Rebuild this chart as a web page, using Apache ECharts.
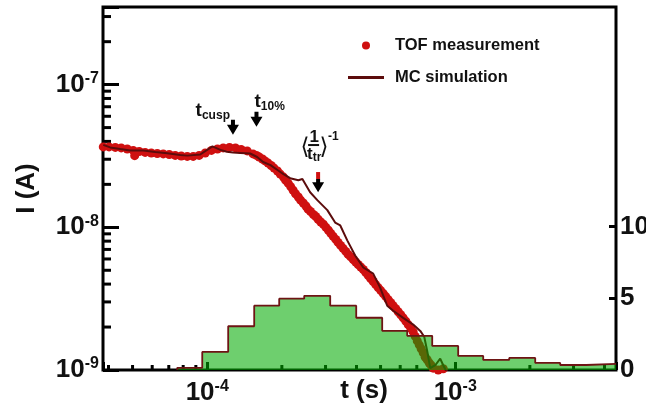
<!DOCTYPE html>
<html>
<head>
<meta charset="utf-8">
<script src="https://cdn.jsdelivr.net/npm/echarts@6/dist/echarts.min.js"></script>
<style>
html, body { margin: 0; padding: 0; background: #fff; }
#main { width: 646px; height: 410px; }
</style>
</head>
<body>
<div id="main"></div>
<script>
var FONT = '"Liberation Sans", Arial, sans-serif';

// TOF measurement (t in s, I in A)
var tofTime = [3.81e-5, 4.02e-5, 4.26e-5, 4.50e-5, 4.76e-5, 5.03e-5, 5.10e-5, 5.32e-5, 5.62e-5, 5.95e-5,
  6.29e-5, 6.65e-5, 7.03e-5, 7.43e-5, 7.86e-5, 8.31e-5, 8.78e-5, 9.28e-5, 9.82e-5, 1.04e-4,
  1.10e-4, 1.16e-4, 1.23e-4, 1.30e-4, 1.37e-4, 1.45e-4,
  1.53e-4, 1.58e-4, 1.62e-4, 1.67e-4, 1.71e-4, 1.76e-4, 1.81e-4, 1.86e-4, 1.92e-4, 1.97e-4,
  2.03e-4, 2.07e-4, 2.12e-4, 2.17e-4, 2.22e-4, 2.27e-4, 2.33e-4, 2.38e-4, 2.44e-4, 2.50e-4,
  2.55e-4, 2.61e-4, 2.68e-4, 2.74e-4, 2.80e-4, 2.87e-4, 2.94e-4, 3.01e-4, 3.08e-4, 3.15e-4,
  3.22e-4, 3.30e-4, 3.37e-4, 3.45e-4, 3.53e-4, 3.62e-4, 3.70e-4, 3.79e-4, 3.88e-4, 3.97e-4,
  4.06e-4, 4.16e-4, 4.26e-4, 4.36e-4, 4.46e-4, 4.56e-4, 4.67e-4, 4.78e-4, 4.89e-4, 5.01e-4,
  5.13e-4, 5.25e-4, 5.37e-4, 5.50e-4, 5.62e-4, 5.76e-4, 5.89e-4, 6.03e-4, 6.17e-4, 6.32e-4,
  6.46e-4, 6.62e-4, 6.77e-4, 6.90e-4, 7.03e-4, 7.16e-4, 7.29e-4, 7.43e-4, 7.57e-4, 7.71e-4,
  7.86e-4, 8.00e-4, 8.15e-4, 8.54e-4, 8.95e-4];
var tofCurrent = [3.66e-8, 3.66e-8, 3.63e-8, 3.60e-8, 3.54e-8, 3.46e-8, 3.18e-8, 3.40e-8, 3.35e-8, 3.32e-8,
  3.29e-8, 3.27e-8, 3.24e-8, 3.19e-8, 3.16e-8, 3.14e-8, 3.14e-8, 3.19e-8, 3.32e-8, 3.46e-8,
  3.54e-8, 3.60e-8, 3.63e-8, 3.60e-8, 3.51e-8, 3.43e-8,
  3.27e-8, 3.19e-8, 3.11e-8, 3.01e-8, 2.92e-8, 2.82e-8, 2.71e-8, 2.60e-8, 2.48e-8, 2.36e-8,
  2.25e-8, 2.14e-8, 2.04e-8, 1.93e-8, 1.82e-8, 1.72e-8, 1.63e-8, 1.55e-8, 1.48e-8, 1.41e-8,
  1.34e-8, 1.29e-8, 1.23e-8, 1.19e-8, 1.14e-8, 1.09e-8, 1.05e-8, 1.00e-8, 9.53e-9, 9.07e-9,
  8.64e-9, 8.23e-9, 7.84e-9, 7.47e-9, 7.12e-9, 6.78e-9, 6.46e-9, 6.20e-9, 5.95e-9, 5.71e-9,
  5.49e-9, 5.27e-9, 5.06e-9, 4.82e-9, 4.59e-9, 4.37e-9, 4.17e-9, 3.97e-9, 3.78e-9, 3.60e-9,
  3.43e-9, 3.27e-9, 3.11e-9, 2.96e-9, 2.82e-9, 2.69e-9, 2.56e-9, 2.44e-9, 2.32e-9, 2.20e-9,
  2.08e-9, 1.96e-9, 1.85e-9, 1.72e-9, 1.60e-9, 1.50e-9, 1.41e-9, 1.32e-9, 1.23e-9, 1.18e-9,
  1.12e-9, 1.08e-9, 1.03e-9, 1.00e-9, 1.02e-9];

// MC simulation
var mcTime = [3.81e-5, 4.06e-5, 4.46e-5, 4.89e-5, 5.52e-5, 6.17e-5, 6.90e-5, 7.78e-5, 8.31e-5, 9.37e-5,
  1.05e-4, 1.13e-4, 1.20e-4, 1.27e-4, 1.36e-4, 1.49e-4, 1.59e-4, 1.68e-4, 1.80e-4, 1.92e-4,
  2.03e-4, 2.16e-4, 2.33e-4, 2.42e-4, 2.60e-4, 2.78e-4, 3.05e-4, 3.28e-4, 3.44e-4, 3.67e-4,
  3.95e-4, 4.26e-4, 4.67e-4, 4.98e-4, 5.32e-4, 5.62e-4, 6.17e-4, 6.77e-4, 7.23e-4, 7.50e-4,
  7.71e-4, 7.93e-4, 8.31e-4, 8.70e-4, 8.95e-4, 9.20e-4];
var mcCurrent = [3.78e-8, 3.63e-8, 3.54e-8, 3.46e-8, 3.46e-8, 3.37e-8, 3.30e-8, 3.21e-8, 3.18e-8, 3.24e-8,
  3.69e-8, 3.49e-8, 3.39e-8, 3.34e-8, 3.32e-8, 3.29e-8, 3.11e-8, 2.87e-8, 2.73e-8, 2.52e-8,
  2.36e-8, 2.21e-8, 2.14e-8, 2.18e-8, 1.76e-8, 1.55e-8, 1.32e-8, 1.08e-8, 1.03e-8, 8.10e-9,
  6.35e-9, 5.23e-9, 4.74e-9, 3.78e-9, 2.82e-9, 2.60e-9, 2.32e-9, 2.08e-9, 1.88e-9, 1.71e-9,
  1.36e-9, 1.03e-9, 1.08e-9, 1.20e-9, 1.08e-9, 0.98e-9];

// transit time histogram (bin edges in s, counts on right axis)
var histEdges = [7.57e-5, 9.55e-5, 1.215e-4, 1.547e-4, 1.951e-4, 2.461e-4, 3.133e-4, 3.989e-4, 5.077e-4,
  6.404e-4, 8.078e-4, 1.028e-3, 1.297e-3, 1.651e-3, 2.102e-3, 2.651e-3, 3.375e-3, 4.45e-3];
var histCounts = [0.15, 1.26, 3.05, 4.48, 4.97, 5.17, 4.48, 3.64, 2.73, 2.38, 1.68, 0.98, 0.70, 0.84, 0.49, 0.35, 0.42];

// ticks
var xMinorTicks = [4e-5, 5e-5, 6e-5, 7e-5, 8e-5, 9e-5, 2e-4, 3e-4, 4e-4, 5e-4, 6e-4, 7e-4, 8e-4, 9e-4, 2e-3, 3e-3, 4e-3];
var yMinorTicks = [2e-9, 3e-9, 4e-9, 5e-9, 6e-9, 7e-9, 8e-9, 9e-9, 2e-8, 3e-8, 4e-8, 5e-8, 6e-8, 7e-8, 8e-8, 9e-8, 2e-7, 3e-7];
var countTicks = [5, 10];
var countLabels = [0, 5, 10];

// arrows: time, top of shaft, tip (A)
var arrowTimes = [1.27e-4, 1.58e-4, 2.80e-4];
var arrowTops = [5.67e-8, 6.45e-8, 2.44e-8];
var arrowTips = [4.45e-8, 5.06e-8, 1.76e-8];

var xMin = 3.8e-5, xMax = 4.45e-3, yMin = 1e-9, yMax = 3.5e-7;

var tofData = tofTime.map(function (t, i) { return [t, tofCurrent[i]]; });
var mcData = mcTime.map(function (t, i) { return [t, mcCurrent[i]]; });
var histData = [[histEdges[0], 0]];
for (var i = 0; i < histCounts.length; i++) {
  histData.push([histEdges[i], histCounts[i]]);
}
histData.push([histEdges[histEdges.length - 1], histCounts[histCounts.length - 1]]);

function powLabel(v) {
  var e = Math.log10(v);
  var r = Math.round(e);
  if (Math.abs(e - r) > 1e-6) return '';
  return '{b|10}{s|' + r + '}';
}

var powRich = {
  b: { fontSize: 26, fontWeight: 'bold', fontFamily: FONT, color: '#111', lineHeight: 28 },
  s: { fontSize: 16, fontWeight: 'bold', fontFamily: FONT, color: '#111', lineHeight: 16, verticalAlign: 'top' }
};

var chart = echarts.init(document.getElementById('main'));

var option = {
  backgroundColor: '#fff',
  animation: false,
  grid: {
    left: 103, right: 30, top: 7, bottom: 40,
    outerBoundsMode: 'none',
    containLabel: false,
    show: true, borderColor: '#000', borderWidth: 3, backgroundColor: 'transparent'
  },
  legend: {
    orient: 'vertical',
    left: 343,
    top: 32,
    itemWidth: 36,
    itemHeight: 8,
    itemGap: 15,
    data: [
      { name: 'TOF measurement', icon: 'circle' },
      { name: 'MC simulation', icon: 'path://M0,0H36V3H0Z' }
    ],
    textStyle: { fontSize: 16.5, fontWeight: 'bold', color: '#111', fontFamily: FONT, padding: [0, 0, 0, 6] }
  },
  xAxis: [{
    type: 'log', logBase: 10, min: xMin, max: xMax,
    position: 'bottom',
    axisLine: { show: false },
    axisTick: { inside: true, length: 8, lineStyle: { color: '#000', width: 3 } },
    splitLine: { show: false },
    axisLabel: { formatter: powLabel, margin: 9, rich: powRich },
    name: 't (s)', nameLocation: 'middle', nameGap: 8, nameMoveOverlap: false,
    nameTextStyle: { fontSize: 26, fontWeight: 'bold', fontFamily: FONT, color: '#111', verticalAlign: 'top', padding: [0, 0, 0, 9] }
  }],
  yAxis: [{
    type: 'log', logBase: 10, min: yMin, max: yMax,
    position: 'left',
    axisLine: { show: false },
    axisTick: { inside: true, length: 16, lineStyle: { color: '#000', width: 3 } },
    splitLine: { show: false },
    axisLabel: { formatter: powLabel, margin: 4, rich: powRich },
    name: 'I (A)', nameLocation: 'middle', nameGap: 63, nameMoveOverlap: false,
    nameTextStyle: { fontSize: 26, fontWeight: 'bold', fontFamily: FONT, color: '#111' }
  }, {
    type: 'value', min: 0, max: 25.3, interval: 5,
    position: 'right',
    axisLine: { show: false },
    axisTick: { inside: true, length: 7, customValues: countTicks, lineStyle: { color: '#000', width: 3 } },
    splitLine: { show: false },
    axisLabel: {
      customValues: countLabels, margin: 4,
      fontSize: 26, fontWeight: 'bold', fontFamily: FONT, color: '#111',
      formatter: function (v) { return v > 10 ? '' : String(v); }
    }
  }],
  series: [{
    name: 'TOF measurement',
    type: 'scatter',
    xAxisIndex: 0, yAxisIndex: 0,
    symbol: 'circle',
    symbolSize: 9,
    itemStyle: { color: '#cf1010', opacity: 1 },
    data: tofData,
    z: 2
  }, {
    name: 'MC simulation',
    type: 'line',
    xAxisIndex: 0, yAxisIndex: 0,
    symbol: 'none',
    lineStyle: { color: '#5c0c0c', width: 2 },
    itemStyle: { color: '#5c0c0c' },
    data: mcData,
    z: 3
  }, {
    name: 'histogram',
    type: 'line',
    xAxisIndex: 0, yAxisIndex: 1,
    step: 'end',
    symbol: 'none',
    lineStyle: { color: '#6e1414', width: 1.8 },
    areaStyle: { color: 'rgb(0,171,0)', opacity: 0.57, origin: 'start' },
    data: histData,
    z: 4
  }]
};

chart.setOption(option);

function px(t, v) {
  return chart.convertToPixel({ xAxisIndex: 0, yAxisIndex: 0 }, [t, v]);
}

var graphics = [];

// minor ticks of the two log axes, placed through the axis scales
var corner = px(xMin, yMin);
xMinorTicks.forEach(function (v) {
  var x = chart.convertToPixel({ xAxisIndex: 0 }, v);
  graphics.push({ type: 'line', z: 1, shape: { x1: x, y1: corner[1], x2: x, y2: corner[1] - 5 },
    style: { stroke: '#000', lineWidth: 3 } });
});
yMinorTicks.forEach(function (v) {
  var y = chart.convertToPixel({ yAxisIndex: 0 }, v);
  graphics.push({ type: 'line', z: 1, shape: { x1: corner[0], y1: y, x2: corner[0] + 8, y2: y },
    style: { stroke: '#000', lineWidth: 3 } });
});

// arrows and labels of the characteristic times
function arrowShape(x, y0, y1, color) {
  var hw = 2, hh = 6, hl = 10;
  return {
    type: 'polygon',
    shape: { points: [[x - hw, y0], [x + hw, y0], [x + hw, y1 - hl], [x + hh, y1 - hl], [x, y1], [x - hh, y1 - hl], [x - hw, y1 - hl]] },
    style: { fill: color },
    z: 10
  };
}

var txt = { fontFamily: FONT, fontWeight: 'bold', fill: '#111' };
var a0 = px(arrowTimes[0], arrowTops[0]), b0 = px(arrowTimes[0], arrowTips[0]);
var a1 = px(arrowTimes[1], arrowTops[1]), b1 = px(arrowTimes[1], arrowTips[1]);
var a2 = px(arrowTimes[2], arrowTops[2]), b2 = px(arrowTimes[2], arrowTips[2]);

graphics.push(arrowShape(a0[0], a0[1], b0[1], '#000'));
graphics.push({
  type: 'text', x: a0[0] - 3, y: a0[1] + 2, z: 10,
  style: {
    text: '{t|t}{s|cusp}', align: 'right', verticalAlign: 'bottom',
    rich: {
      t: Object.assign({ fontSize: 19, lineHeight: 23 }, txt),
      s: Object.assign({ fontSize: 12, lineHeight: 12, verticalAlign: 'bottom' }, txt)
    }
  }
});

graphics.push(arrowShape(a1[0], a1[1], b1[1], '#000'));
graphics.push({
  type: 'text', x: a1[0] - 2, y: a1[1] + 1, z: 10,
  style: {
    text: '{t|t}{s|10%}', align: 'left', verticalAlign: 'bottom',
    rich: {
      t: Object.assign({ fontSize: 19, lineHeight: 23 }, txt),
      s: Object.assign({ fontSize: 12, lineHeight: 12, verticalAlign: 'bottom' }, txt)
    }
  }
});

// <1/t_tr>^-1 with red stem
graphics.push({
  type: 'rect', shape: { x: a2[0] - 2, y: a2[1], width: 4, height: 7 },
  style: { fill: '#cf1010' }, z: 10
});
graphics.push(arrowShape(a2[0], a2[1] + 7, b2[1], '#000'));
var fx = a2[0], fy = a2[1];
var brk = Object.assign({}, txt, { fontFamily: '"DejaVu Sans", sans-serif', fontWeight: 'normal', fontSize: 23, align: 'center', verticalAlign: 'middle' });
graphics.push({ type: 'text', x: fx - 13, y: fy - 24, z: 10, style: Object.assign({ text: '\u27E8' }, brk) });
graphics.push({ type: 'text', x: fx + 6, y: fy - 24, z: 10, style: Object.assign({ text: '\u27E9' }, brk) });
graphics.push({ type: 'text', x: fx - 4, y: fy - 35, z: 10,
  style: Object.assign({ text: '1', fontSize: 17, align: 'center', verticalAlign: 'middle' }, txt) });
graphics.push({ type: 'line', z: 10,
  shape: { x1: fx - 10, y1: fy - 27, x2: fx + 1, y2: fy - 27 },
  style: { stroke: '#111', lineWidth: 2 } });
graphics.push({
  type: 'text', x: fx - 11, y: fy - 8, z: 10,
  style: {
    text: '{t|t}{s|tr}', align: 'left', verticalAlign: 'bottom',
    rich: {
      t: Object.assign({ fontSize: 17, lineHeight: 20 }, txt),
      s: Object.assign({ fontSize: 12, lineHeight: 12, verticalAlign: 'bottom' }, txt)
    }
  }
});
graphics.push({ type: 'text', x: fx + 10, y: fy - 35, z: 10,
  style: Object.assign({ text: '-1', fontSize: 12, align: 'left', verticalAlign: 'middle' }, txt) });

chart.setOption({ graphic: graphics });
</script>
</body>
</html>
